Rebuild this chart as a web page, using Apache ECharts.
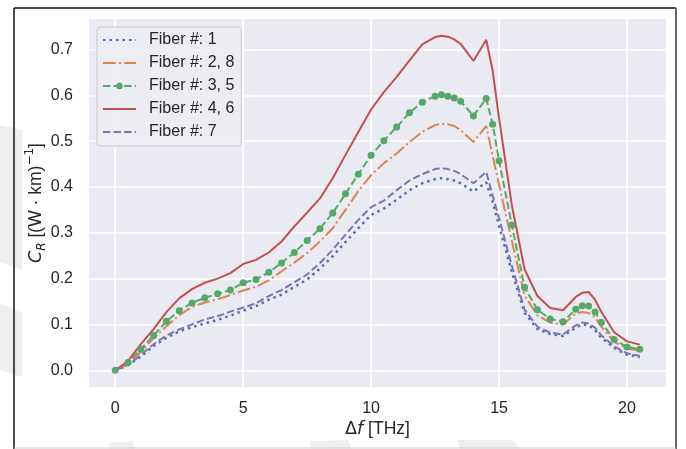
<!DOCTYPE html>
<html>
<head>
<meta charset="utf-8">
<script src="https://cdn.jsdelivr.net/npm/echarts@6/dist/echarts.min.js"></script>
<style>
  html, body { margin: 0; padding: 0; background: #ffffff; }
  #chart { width: 686px; height: 449px; }
</style>
</head>
<body>
<div id="chart"></div>
<script>
// Frequency offset Δf in THz (shared sampling for every fiber curve)
const freqTHz = [0, 0.5, 1, 1.5, 2, 2.5, 3, 3.5, 4, 4.5,
  5, 5.5, 6, 6.5, 7, 7.5, 8, 8.5, 9, 9.5,
  10, 10.5, 11, 11.5, 12, 12.5, 12.75, 13, 13.25, 13.5,
  14, 14.5, 14.75, 15, 15.5, 16, 16.5, 17, 17.5, 18,
  18.25, 18.5, 18.75, 19, 19.5, 20, 20.5];

// Raman gain coefficient C_R in (W·km)^-1 per fiber group
const fiber1 = [0, 0.011, 0.030, 0.053, 0.071, 0.085, 0.094, 0.102, 0.110, 0.119,
  0.130, 0.140, 0.154, 0.165, 0.182, 0.198, 0.222, 0.249, 0.280, 0.310,
  0.339, 0.353, 0.372, 0.393, 0.408, 0.417, 0.419, 0.417, 0.414, 0.408,
  0.390, 0.410, 0.368, 0.315, 0.215, 0.125, 0.090, 0.079, 0.075, 0.093,
  0.100, 0.098, 0.088, 0.071, 0.049, 0.034, 0.029];
const fiber2and8 = [0, 0.014, 0.040, 0.070, 0.096, 0.120, 0.138, 0.148, 0.155, 0.164,
  0.174, 0.182, 0.196, 0.216, 0.235, 0.256, 0.281, 0.310, 0.350, 0.391,
  0.426, 0.452, 0.473, 0.498, 0.520, 0.535, 0.538, 0.537, 0.533, 0.524,
  0.498, 0.533, 0.468, 0.405, 0.282, 0.163, 0.120, 0.104, 0.100, 0.124,
  0.127, 0.125, 0.116, 0.095, 0.062, 0.048, 0.042];
const fiber3and5 = [0, 0.017, 0.046, 0.076, 0.107, 0.130, 0.147, 0.158, 0.167, 0.175,
  0.191, 0.198, 0.214, 0.234, 0.257, 0.283, 0.309, 0.343, 0.385, 0.428,
  0.469, 0.501, 0.531, 0.562, 0.585, 0.598, 0.601, 0.598, 0.594, 0.587,
  0.555, 0.593, 0.537, 0.457, 0.317, 0.181, 0.132, 0.112, 0.106, 0.133,
  0.141, 0.140, 0.127, 0.104, 0.067, 0.051, 0.046];
const fiber4and6 = [0, 0.020, 0.057, 0.090, 0.127, 0.157, 0.177, 0.191, 0.200, 0.212,
  0.232, 0.241, 0.257, 0.281, 0.314, 0.344, 0.375, 0.419, 0.470, 0.520,
  0.569, 0.607, 0.640, 0.676, 0.711, 0.727, 0.730, 0.728, 0.722, 0.712,
  0.675, 0.721, 0.654, 0.550, 0.360, 0.220, 0.162, 0.136, 0.131, 0.160,
  0.169, 0.171, 0.154, 0.127, 0.083, 0.063, 0.056];
const fiber7 = [0, 0.012, 0.033, 0.057, 0.076, 0.089, 0.100, 0.111, 0.118, 0.128,
  0.137, 0.146, 0.162, 0.175, 0.192, 0.209, 0.234, 0.263, 0.296, 0.328,
  0.356, 0.370, 0.393, 0.414, 0.428, 0.439, 0.441, 0.439, 0.435, 0.428,
  0.408, 0.433, 0.381, 0.332, 0.228, 0.132, 0.095, 0.082, 0.078, 0.098,
  0.104, 0.102, 0.093, 0.076, 0.052, 0.037, 0.031];

const seriesNames = ['Fiber #: 1', 'Fiber #: 2, 8', 'Fiber #: 3, 5', 'Fiber #: 4, 6', 'Fiber #: 7'];

// Tick positions
const xTicks = [0, 5, 10, 15, 20];
const yTicks = [0, 0.1, 0.2, 0.3, 0.4, 0.5, 0.6, 0.7];

// Axis extents: data range padded by 5% on each side
const xRange = [-1.025, 21.525];
const yRange = [-0.0365, 0.7665];

const FONT = '"Liberation Sans", Arial, sans-serif';
const MATH = '"DejaVu Sans", sans-serif';
const TEXT = '#262626';
const GRID_BG = '#EAEAF2';

function pairs(vals) {
  return freqTHz.map((f, i) => [f, vals[i]]);
}

function lineSeries(name, vals, color, dash, width, withMarker) {
  return {
    name: name,
    type: 'line',
    data: pairs(vals),
    symbol: withMarker ? 'circle' : 'none',
    symbolSize: withMarker ? 7 : 0,
    showSymbol: !!withMarker,
    itemStyle: { color: color },
    lineStyle: { color: color, width: width, type: dash, cap: 'butt' },
    emphasis: { disabled: true },
    animation: false
  };
}

// Legend entries: only the marker series shows a dot in its key
const legendEntries = seriesNames.map((n, i) =>
  i === 2 ? { name: n } : { name: n, itemStyle: { opacity: 0 } });

const chart = echarts.init(document.getElementById('chart'), null, { renderer: 'canvas' });

const watermark = '#eeeeee';

chart.setOption({
  backgroundColor: '#ffffff',
  textStyle: { fontFamily: FONT },
  animation: false,
  grid: {
    left: 89, top: 19, right: 20, bottom: 62,
    show: true, backgroundColor: GRID_BG, borderWidth: 0
  },
  graphic: [
    // faint background shapes
    { type: 'polygon', z: -10, shape: { points: [[0, 125], [22, 130], [22, 270], [0, 262]] }, style: { fill: watermark } },
    { type: 'polygon', z: -10, shape: { points: [[0, 303], [22, 313], [22, 377], [0, 370]] }, style: { fill: watermark } },
    { type: 'polygon', z: -10, shape: { points: [[108, 443], [132, 441], [135, 449], [110, 449]] }, style: { fill: watermark } },
    { type: 'polygon', z: -10, shape: { points: [[310, 441], [348, 440], [352, 449], [312, 449]] }, style: { fill: watermark } },
    { type: 'polygon', z: -10, shape: { points: [[457, 440], [512, 440], [520, 449], [460, 449]] }, style: { fill: watermark } },
    // outer frame
    { type: 'line', z: 10, shape: { x1: 14, y1: 8, x2: 676, y2: 8 }, style: { stroke: '#111', lineWidth: 1.5 } },
    { type: 'line', z: 10, shape: { x1: 14, y1: 8, x2: 14, y2: 449 }, style: { stroke: '#111', lineWidth: 1.5 } },
    { type: 'line', z: 10, shape: { x1: 676, y1: 8, x2: 676, y2: 449 }, style: { stroke: '#666', lineWidth: 2 } },
    { type: 'line', z: 10, shape: { x1: 14, y1: 448, x2: 676, y2: 448 }, style: { stroke: '#d0d0d0', lineWidth: 1 } }
  ],
  legend: {
    data: legendEntries,
    orient: 'vertical',
    left: 97, top: 27,
    itemWidth: 33, itemHeight: 8, itemGap: 7,
    padding: [5, 7, 6, 5],
    backgroundColor: 'rgba(236,236,243,0.9)',
    borderColor: '#cccccc', borderWidth: 1, borderRadius: 4,
    textStyle: { fontSize: 16, color: TEXT, fontFamily: FONT, padding: [0, 0, 0, 8], lineHeight: 16 },
    selectedMode: false
  },
  xAxis: {
    type: 'value',
    min: xRange[0], max: xRange[1],
    name: '{d|Δ}{i|f}{t| [THz]}',
    nameLocation: 'middle',
    nameGap: 33,
    nameMoveOverlap: false,
    nameTextStyle: {
      color: TEXT, fontSize: 17.5,
      rich: {
        d: { fontSize: 17.5, fontFamily: MATH, color: TEXT },
        i: { fontSize: 17.5, fontStyle: 'italic', fontFamily: MATH, color: TEXT },
        t: { fontSize: 17.5, fontFamily: FONT, color: TEXT }
      }
    },
    axisLine: { show: false },
    axisTick: { show: false, customValues: xTicks },
    axisLabel: { customValues: xTicks, color: TEXT, fontSize: 16, margin: 14, formatter: v => String(v) },
    splitLine: { show: true, lineStyle: { color: '#ffffff', width: 1.5 } }
  },
  yAxis: {
    type: 'value',
    min: yRange[0], max: yRange[1],
    name: '{i|C}{sub|R}{t| [(W · km)}{sup|−1}{t|]}',
    nameLocation: 'middle',
    nameGap: 41,
    nameMoveOverlap: false,
    nameTextStyle: {
      color: TEXT, fontSize: 17.5,
      rich: {
        i: { fontSize: 17.5, fontStyle: 'italic', fontFamily: MATH, color: TEXT, lineHeight: 24, verticalAlign: 'middle' },
        sub: { fontSize: 12, fontStyle: 'italic', fontFamily: MATH, color: TEXT, verticalAlign: 'bottom', lineHeight: 13 },
        t: { fontSize: 17.5, fontFamily: FONT, color: TEXT, lineHeight: 24, verticalAlign: 'middle' },
        sup: { fontSize: 12, fontFamily: MATH, color: TEXT, verticalAlign: 'top', lineHeight: 13 }
      }
    },
    axisLine: { show: false },
    axisTick: { show: false, customValues: yTicks },
    axisLabel: { customValues: yTicks, color: TEXT, fontSize: 16, margin: 16, formatter: v => v.toFixed(1) },
    splitLine: { show: true, lineStyle: { color: '#ffffff', width: 1.5 } }
  },
  series: [
    lineSeries(seriesNames[0], fiber1, '#4C72B0', [2.5, 4], 2.5, false),
    lineSeries(seriesNames[1], fiber2and8, '#DD8452', [12.8, 3.2, 2, 3.2], 2, false),
    lineSeries(seriesNames[2], fiber3and5, '#55A868', [7.4, 3.2], 2, true),
    lineSeries(seriesNames[3], fiber4and6, '#C44E52', 'solid', 2, false),
    lineSeries(seriesNames[4], fiber7, '#8172B3', [7.4, 3.2], 2, false)
  ]
});
</script>
</body>
</html>
